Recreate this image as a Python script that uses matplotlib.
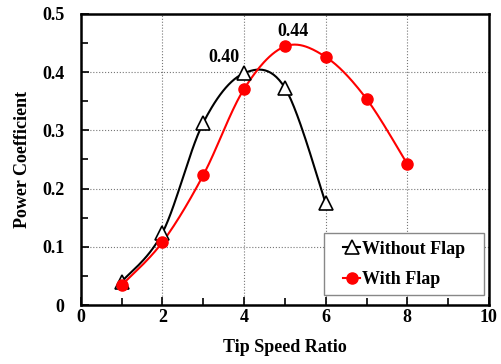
import numpy as np
import matplotlib.pyplot as plt
from matplotlib.patches import Rectangle
from matplotlib.ticker import MultipleLocator

# data
tsr_without = [1, 2, 3, 4, 5, 6]
cp_without = [0.040, 0.124, 0.313, 0.398, 0.373, 0.175]
tsr_with = [1, 2, 3, 4, 5, 6, 7, 8]
cp_with = [0.034, 0.108, 0.223, 0.371, 0.444, 0.426, 0.354, 0.242]
peak_labels = ['0.40', '0.44']

plt.rcParams['font.family'] = ['Liberation Serif', 'DejaVu Serif']
plt.rcParams['font.weight'] = 'bold'
FS = 13


def smooth(x, y, n=30):
    ''' Excel style smoothed line: cubic bezier with catmull-rom control points '''
    p = np.column_stack([x, y]).astype(float)
    ext = np.vstack([p[0], p, p[-1]])
    out = []
    t = np.linspace(0, 1, n)[:, None]
    for i in range(len(p) - 1):
        p0, p1, p2, p3 = ext[i], ext[i + 1], ext[i + 2], ext[i + 3]
        c1 = p1 + (p2 - p0) / 6
        c2 = p2 - (p3 - p1) / 6
        seg = (1 - t)**3 * p1 + 3 * (1 - t)**2 * t * c1 + 3 * (1 - t) * t**2 * c2 + t**3 * p2
        out.append(seg if i == 0 else seg[1:])
    out = np.vstack(out)
    return out[:, 0], out[:, 1]


fig = plt.figure(figsize=(5.02, 3.64), dpi=100)
ax = fig.add_axes([0.161, 0.162, 0.813, 0.8])

xs, ys = smooth(tsr_without, cp_without)
ax.plot(xs, ys, color='black', lw=1.5, zorder=3)
ax.plot(tsr_without, cp_without, ls='none', marker='^', ms=10, mfc='white', mec='black', mew=1.2, zorder=4)
xs, ys = smooth(tsr_with, cp_with)
ax.plot(xs, ys, color='red', lw=1.5, zorder=3)
ax.plot(tsr_with, cp_with, ls='none', marker='o', ms=8, mfc='red', mec='red', zorder=5)

# legend box drawn separately so the padding matches the excel look
ax.add_patch(Rectangle((0.596, 0.034), 0.392, 0.213, transform=ax.transAxes, facecolor='white',
                       edgecolor='#888888', lw=1.0, zorder=6))
h1, = ax.plot([], [], color='black', lw=1.5, marker='^', ms=10, mfc='white', mec='black', mew=1.2)
h2, = ax.plot([], [], color='red', lw=1.5, marker='o', ms=8, mfc='red', mec='red')
leg = ax.legend([h1, h2], ['Without Flap', 'With Flap'], loc='center', bbox_to_anchor=(0.792, 0.139),
                frameon=False, handlelength=0.9, handletextpad=0.1, borderpad=0, labelspacing=0.75,
                borderaxespad=0, prop={'size': FS, 'weight': 'bold'})
leg.set_zorder(7)

ax.annotate(peak_labels[0], (tsr_without[3], cp_without[3]), xytext=(-14.5, 11), textcoords='offset points',
            ha='center', va='center', fontsize=FS, fontweight='bold')
ax.annotate(peak_labels[1], (tsr_with[4], cp_with[4]), xytext=(5.8, 11), textcoords='offset points',
            ha='center', va='center', fontsize=FS, fontweight='bold')

ax.set_xlim(0, 10)
ax.set_ylim(0, 0.5)
ax.xaxis.set_major_locator(MultipleLocator(2))
ax.xaxis.set_minor_locator(MultipleLocator(1))
ax.yaxis.set_minor_locator(MultipleLocator(0.05))
ax.yaxis.set_ticks([0, 0.1, 0.2, 0.3, 0.4, 0.5])
ax.set_yticklabels(['0', '0.1', '0.2', '0.3', '0.4', '0.5'])
ax.tick_params(which='both', direction='in', width=1.2, labelsize=FS)
ax.tick_params(axis='y', pad=12)
ax.tick_params(axis='x', pad=3)
ax.tick_params(which='major', length=6)
ax.tick_params(which='minor', length=5)
ax.grid(True, which='major', color='#777777', ls=':', lw=0.8)
for s in ax.spines.values():
    s.set_linewidth(1.8)
    s.set_zorder(8)

ax.set_xlabel('Tip Speed Ratio', fontsize=FS, fontweight='bold', labelpad=9)
ax.set_ylabel('Power Coefficient', fontsize=FS, fontweight='bold', labelpad=8)

fig.savefig('out.png', dpi=100)
